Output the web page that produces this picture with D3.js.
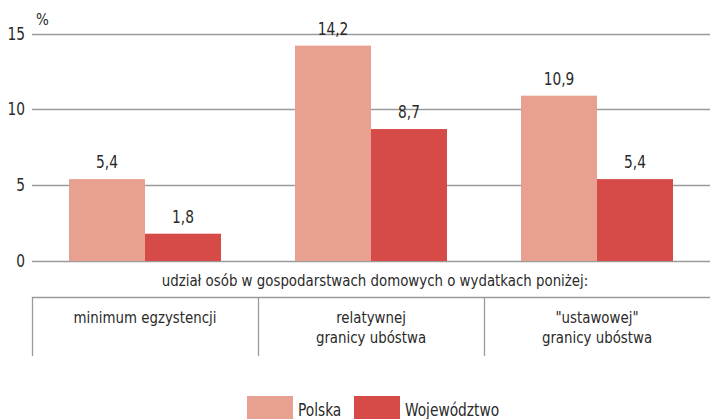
<!DOCTYPE html>
<html><head><meta charset="utf-8">
<script src="https://cdn.jsdelivr.net/npm/d3@7"></script>
<style>
body{margin:0;background:#fff;}
svg{display:block;font-family:"Liberation Sans Narrow","DejaVu Sans Condensed","Roboto Condensed",sans-serif;}
</style></head>
<body>
<svg id="c" width="710" height="419"></svg>
<script>
const categories = ["minimum egzystencji", "relatywnej\ngranicy ubóstwa", "\"ustawowej\"\ngranicy ubóstwa"];
const seriesNames = ["Polska", "Województwo"];
const polska = [5.4, 14.2, 10.9];
const wojewodztwo = [1.8, 8.7, 5.4];
const yTicks = [0, 5, 10, 15];
const colors = ["#E8A090", "#D64B48"];

(function(){
const svg = d3.select("#c");
const mLeft = 32, mRight = 710, mTop = 33.5, mBottom = 261;
const y = d3.scaleLinear().domain([0, 15]).range([mBottom, mTop]);
const x = d3.scaleBand().domain(categories).range([mLeft, mRight]).paddingInner(0).paddingOuter(0);
const xs = d3.scaleBand().domain(seriesNames).range([0, x.bandwidth()]).paddingOuter(0.487).paddingInner(0);
const SX = 0.9; // horizontal condensing of text
function sq(sel, fx, fy){ sel.attr("transform", (d,i) => `translate(${fx(d,i)},${fy(d,i)}) scale(${SX},1)`); return sel; }

// grid
svg.append("g").selectAll("line").data(yTicks).join("line")
  .attr("x1", mLeft).attr("x2", mRight)
  .attr("y1", d => Math.round(y(d)) + 0.5).attr("y2", d => Math.round(y(d)) + 0.5)
  .attr("stroke", "#9a9a9a").attr("stroke-width", 1.3);
sq(svg.append("g").selectAll("text").data(yTicks).join("text")
  .attr("text-anchor", "end").attr("font-size", 17).attr("fill", "#2a2a2a")
  .text(d => d), () => 25, d => y(d) + 6);
svg.append("text").attr("x", 36).attr("y", 25).attr("font-size", 15).attr("fill", "#2a2a2a").text("%");

const data = categories.map((c, i) => ({c, vals: [polska[i], wojewodztwo[i]]}));
const g = svg.append("g").selectAll("g").data(data).join("g")
  .attr("transform", d => `translate(${x(d.c)},0)`);
g.selectAll("rect").data(d => d.vals.map((v, j) => ({v, s: seriesNames[j], j}))).join("rect")
  .attr("x", d => xs(d.s)).attr("width", xs.bandwidth())
  .attr("y", d => y(d.v)).attr("height", d => y(0) - y(d.v))
  .attr("fill", d => colors[d.j]);
sq(g.selectAll("text.v").data(d => d.vals.map((v, j) => ({v, s: seriesNames[j], j}))).join("text")
  .attr("class", "v")
  .attr("text-anchor", "middle").attr("font-size", 17).attr("fill", "#2a2a2a")
  .text(d => d3.format(".1f")(d.v).replace(".", ",")),
  d => xs(d.s) + xs.bandwidth() / 2, d => y(d.v) - 11);

// bottom table
svg.append("text").attr("transform", `translate(375,286) scale(${SX},1)`).attr("text-anchor", "middle")
  .attr("font-size", 16.5).attr("fill", "#2a2a2a")
  .text("udział osób w gospodarstwach domowych o wydatkach poniżej:");
svg.append("line").attr("x1", mLeft).attr("x2", mRight).attr("y1", 297.5).attr("y2", 297.5)
  .attr("stroke", "#9a9a9a").attr("stroke-width", 1.3);
const dividers = categories.map(c => x(c));
svg.append("g").selectAll("line").data(dividers).join("line")
  .attr("x1", d => Math.round(d) + 0.5).attr("x2", d => Math.round(d) + 0.5)
  .attr("y1", 297).attr("y2", 356)
  .attr("stroke", "#9a9a9a").attr("stroke-width", 1.3);
const cell = sq(svg.append("g").selectAll("text").data(categories).join("text")
  .attr("text-anchor", "middle")
  .attr("font-size", 16.5).attr("fill", "#2a2a2a"), d => x(d) + x.bandwidth() / 2, () => 0);
cell.selectAll("tspan").data(d => d.split("\n")).join("tspan")
  .attr("x", 0)
  .attr("y", (d, i) => 323 + i * 20).text(d => d);

// legend
const legX = [247, 354];
const leg = svg.append("g").selectAll("g").data(seriesNames).join("g")
  .attr("transform", (d, i) => `translate(${legX[i]},396)`);
leg.append("rect").attr("width", 46).attr("height", 23).attr("fill", (d, i) => colors[i]);
leg.append("text").attr("transform", `translate(51,20) scale(${SX},1)`).attr("font-size", 17).attr("fill", "#2a2a2a").text(d => d);
})();
</script>
</body></html>
